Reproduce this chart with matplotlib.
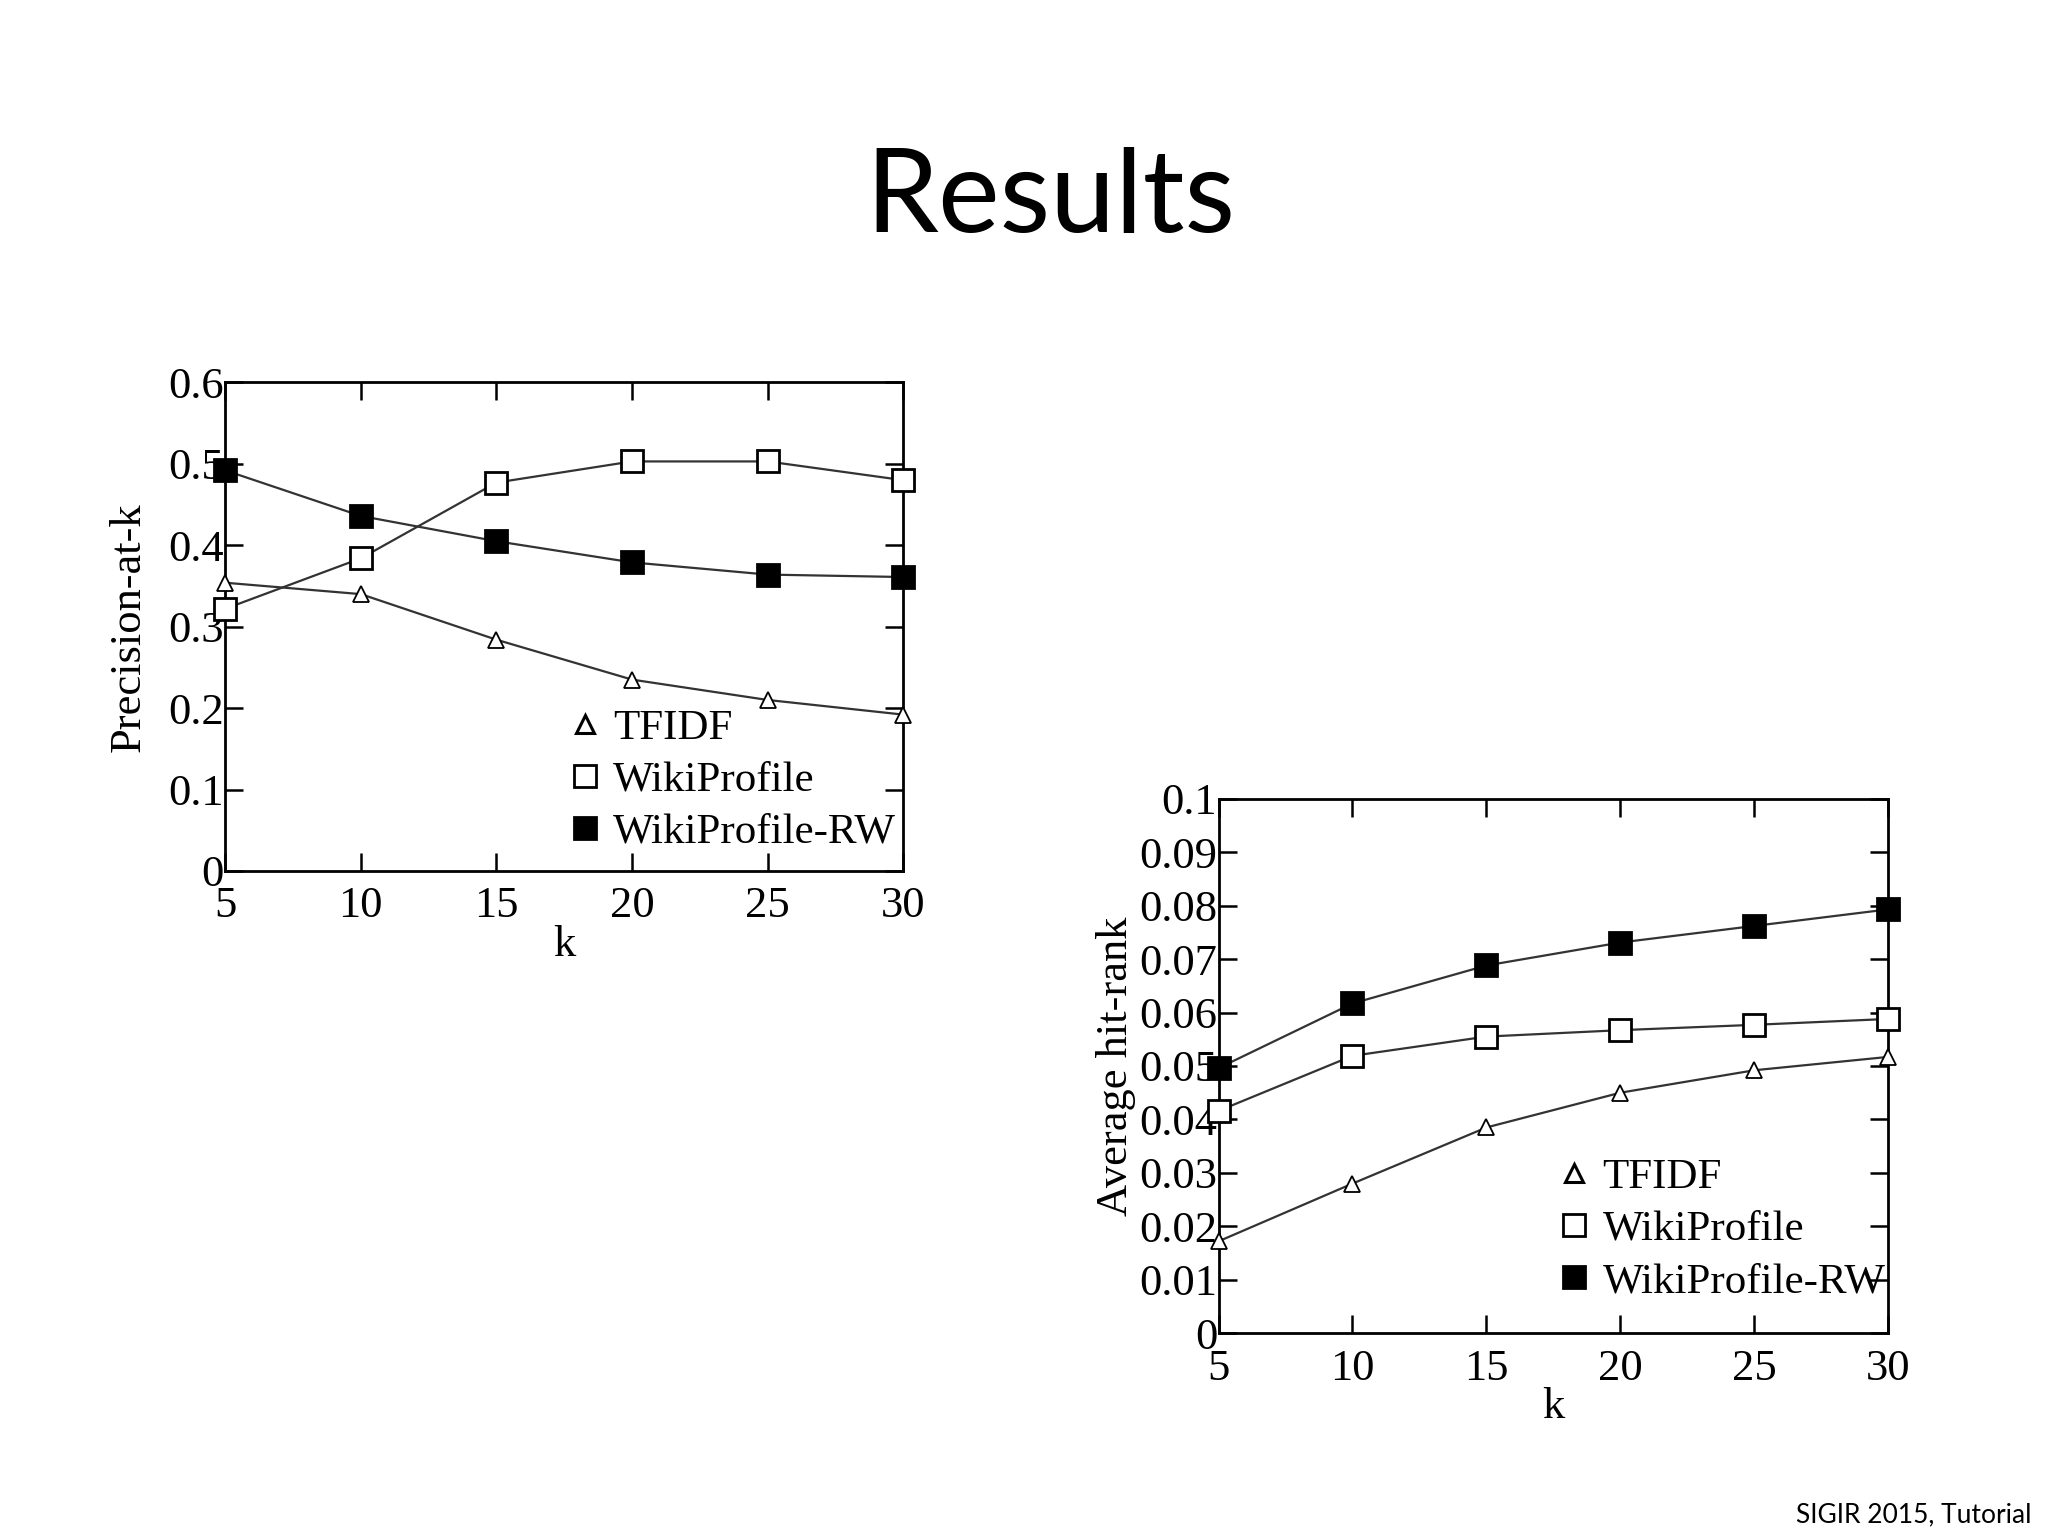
import numpy as np
import matplotlib.pyplot as plt
from matplotlib.lines import Line2D

# data
k = [5, 10, 15, 20, 25, 30]

prec_tfidf = [0.354, 0.340, 0.284, 0.235, 0.210, 0.192]
prec_wiki = [0.322, 0.384, 0.477, 0.503, 0.503, 0.480]
prec_wiki_rw = [0.492, 0.436, 0.405, 0.379, 0.364, 0.361]

hit_tfidf = [0.0172, 0.0280, 0.0385, 0.0450, 0.0492, 0.0517]
hit_wiki = [0.0416, 0.0519, 0.0555, 0.0567, 0.0577, 0.0588]
hit_wiki_rw = [0.0496, 0.0617, 0.0688, 0.0731, 0.0762, 0.0793]

series_names = ['TFIDF', 'WikiProfile', 'WikiProfile-RW']

plt.rcParams['font.family'] = ['Liberation Serif', 'DejaVu Serif']

fig = plt.figure(figsize=(20.48, 15.36), dpi=100)
fig.patch.set_facecolor('white')

fig.text(0.513, 0.870, 'Results', family='Lato', fontsize=84, ha='center', va='center')
fig.text(0.992, 0.014, 'SIGIR 2015, Tutorial', family='Lato', fontsize=19, ha='right', va='center')

styles = [
    dict(marker='^', markersize=11, markerfacecolor='white', markeredgewidth=1.3),
    dict(marker='s', markersize=16, markerfacecolor='white', markeredgewidth=2.0),
    dict(marker='s', markersize=16, markerfacecolor='black', markeredgewidth=2.0),
]
# legend markers: triangle drawn a bit bolder than on the lines
legend_styles = [
    dict(marker='^', markersize=13, markerfacecolor='white', markeredgewidth=2.2),
    styles[1],
    styles[2],
]


def draw_panel(ax, ys, ylim, yticks, ylabels, ylabel, ylabelpad, leg_anchor):
    for y, name, st in zip(ys, series_names, styles):
        ax.plot(k, y, color='#333333', linewidth=1.6, markeredgecolor='black',
                label=name, clip_on=False, zorder=3, **st)
    ax.set_xlim(5, 30)
    ax.set_ylim(*ylim)
    ax.set_xticks(k)
    ax.set_xticklabels([str(v) for v in k])
    ax.set_yticks(yticks)
    ax.set_yticklabels(ylabels)
    ax.tick_params(direction='in', length=13, width=1.8, labelsize=32,
                   top=True, right=True)
    ax.tick_params(axis='x', pad=11)
    ax.tick_params(axis='y', pad=1)
    for sp in ax.spines.values():
        sp.set_linewidth(2.0)
    ax.set_xlabel('k', fontsize=32, labelpad=-1)
    ax.set_ylabel(ylabel, fontsize=32, labelpad=ylabelpad)
    # legend shows only the marker, no line
    handles = [Line2D([], [], linestyle='none', markeredgecolor='black', **st)
               for st in legend_styles]
    ax.legend(handles, series_names, loc='lower left', bbox_to_anchor=leg_anchor,
              frameon=False, fontsize=31, handlelength=0.6, handletextpad=0.35,
              borderpad=0, labelspacing=0.3)


ax1 = fig.add_axes([0.110, 0.433, 0.331, 0.318])
draw_panel(ax1, [prec_tfidf, prec_wiki, prec_wiki_rw], (0, 0.6),
           [0, 0.1, 0.2, 0.3, 0.4, 0.5, 0.6],
           ['0', '0.1', '0.2', '0.3', '0.4', '0.5', '0.6'],
           'Precision-at-k', 14, (0.48, -0.005))

ax2 = fig.add_axes([0.595, 0.132, 0.327, 0.348])
yt2 = [0, 0.01, 0.02, 0.03, 0.04, 0.05, 0.06, 0.07, 0.08, 0.09, 0.1]
draw_panel(ax2, [hit_tfidf, hit_wiki, hit_wiki_rw], (0, 0.1), yt2,
           ['0', '0.01', '0.02', '0.03', '0.04', '0.05', '0.06', '0.07',
            '0.08', '0.09', '0.1'],
           'Average hit-rank', 2, (0.48, 0.02))

fig.savefig('out.png', dpi=100)
